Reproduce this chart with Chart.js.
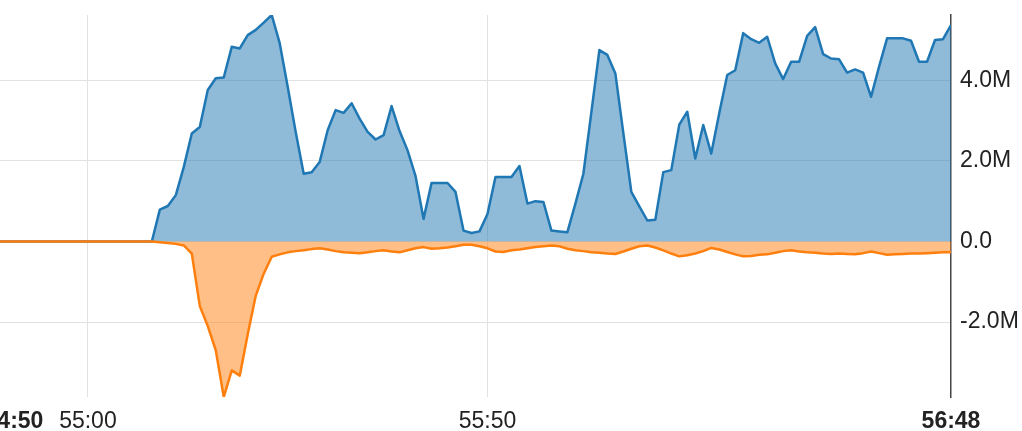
<!DOCTYPE html>
<html>
<head>
<meta charset="utf-8">
<script src="https://cdn.jsdelivr.net/npm/chart.js@4.4.1/dist/chart.umd.min.js"></script>
<style>
  html, body { margin: 0; padding: 0; background: #fff; overflow: hidden; }
  #wrap { position: absolute; left: 0; top: 0; width: 1022px; height: 431px; }
</style>
</head>
<body>
<div id="wrap"><canvas id="traffic"></canvas></div>
<script>
// One sample per second, in seconds past the hour (54:49 .. 56:48)
const firstSecond = 3289;

// Throughput in millions: inbound above zero, outbound below
const inbound = [
  0, 0, 0, 0, 0, 0, 0, 0, 0, 0,
  0, 0, 0, 0, 0, 0, 0, 0, 0, 0,
  0.79, 0.88, 1.15, 1.85, 2.68, 2.84, 3.76, 4.05, 4.07, 4.83,
  4.79, 5.12, 5.25, 5.43, 5.62, 4.92, 3.84, 2.72, 1.68, 1.72,
  1.97, 2.76, 3.26, 3.19, 3.43, 3.05, 2.72, 2.53, 2.64, 3.36,
  2.74, 2.26, 1.62, 0.56, 1.45, 1.45, 1.45, 1.23, 0.27, 0.21,
  0.25, 0.68, 1.60, 1.60, 1.60, 1.87, 0.94, 1.00, 0.98, 0.27,
  0.25, 0.23, 0.94, 1.68, 3.21, 4.75, 4.63, 4.17, 2.69, 1.23,
  0.87, 0.52, 0.54, 1.72, 1.77, 2.90, 3.22, 2.06, 2.89, 2.18,
  3.18, 4.13, 4.25, 5.17, 5.02, 4.93, 5.08, 4.42, 4.03, 4.46,
  4.46, 5.10, 5.32, 4.65, 4.54, 4.52, 4.19, 4.27, 4.19, 3.59,
  4.34, 5.04, 5.04, 5.04, 4.98, 4.46, 4.46, 5.00, 5.02, 5.37
];
const outbound = [
  0, 0, 0, 0, 0, 0, 0, 0, 0, 0,
  0, 0, 0, 0, 0, 0, 0, 0, 0, 0,
  -0.02, -0.04, -0.06, -0.10, -0.30, -1.60, -2.10, -2.70, -3.86, -3.20,
  -3.33, -2.30, -1.35, -0.80, -0.38, -0.32, -0.27, -0.24, -0.22, -0.19,
  -0.17, -0.20, -0.24, -0.27, -0.28, -0.29, -0.27, -0.24, -0.22, -0.25,
  -0.27, -0.22, -0.17, -0.14, -0.18, -0.17, -0.15, -0.12, -0.08, -0.08,
  -0.12, -0.17, -0.25, -0.26, -0.22, -0.20, -0.17, -0.14, -0.12, -0.10,
  -0.12, -0.18, -0.22, -0.24, -0.27, -0.28, -0.30, -0.31, -0.25, -0.18,
  -0.12, -0.10, -0.15, -0.22, -0.30, -0.37, -0.34, -0.30, -0.24, -0.16,
  -0.20, -0.26, -0.32, -0.37, -0.36, -0.33, -0.32, -0.28, -0.24, -0.22,
  -0.25, -0.27, -0.28, -0.30, -0.31, -0.30, -0.31, -0.32, -0.29, -0.25,
  -0.29, -0.33, -0.32, -0.31, -0.30, -0.30, -0.29, -0.28, -0.27, -0.27
];

// Axis ticks: range start, two regular marks, range end (seconds past the hour)
const xTicks = [3290.75, 3300, 3350, 3408];
const yTicks = [-2, 0, 2, 4];

const times = inbound.map((_, i) => firstSecond + i);
const lastSecond = times[times.length - 1];

const fontFamily = '"Liberation Sans", Arial, Helvetica, sans-serif';
const isEdge = i => i === 0 || i === xTicks.length - 1;

function mmss(sec) {
  const s = Math.floor(sec);
  const m = Math.floor(s / 60) % 60;
  const ss = s % 60;
  return String(m).padStart(2, '0') + ':' + String(ss).padStart(2, '0');
}

new Chart(document.getElementById('traffic'), {
  type: 'line',
  data: {
    datasets: [
      {
        label: 'out',
        data: times.map((t, i) => ({ x: t, y: outbound[i] })),
        borderColor: '#ff7f0e',
        backgroundColor: 'rgba(255,127,14,0.5)',
        borderWidth: 2.5,
        fill: 'origin'
      },
      {
        label: 'in',
        data: times.map((t, i) => ({ x: t, y: inbound[i] })),
        borderColor: '#1f77b4',
        backgroundColor: 'rgba(31,119,180,0.5)',
        borderWidth: 2.5,
        fill: 'origin'
      }
    ]
  },
  options: {
    responsive: true,
    maintainAspectRatio: false,
    animation: false,
    layout: { padding: { top: 15, left: 0, right: 0, bottom: 0 } },
    plugins: { legend: { display: false }, tooltip: { enabled: false } },
    elements: { point: { radius: 0 }, line: { tension: 0, borderJoinStyle: 'round' } },
    scales: {
      x: {
        type: 'linear',
        min: firstSecond,
        max: lastSecond,
        afterBuildTicks: s => { s.ticks = xTicks.map(v => ({ value: v })); },
        afterFit: s => { s.paddingLeft = 0; s.paddingRight = 0; s.height = 34; },
        border: { display: false },
        grid: {
          drawTicks: false,
          lineWidth: 1,
          color: ctx => isEdge(ctx.index) ? 'rgba(0,0,0,0)' : '#e2e2e2'
        },
        ticks: {
          autoSkip: false,
          maxRotation: 0,
          padding: 11,
          color: '#222',
          font: ctx => ({ family: fontFamily, size: 23, weight: isEdge(ctx.index) ? 'bold' : 'normal' }),
          callback: v => mmss(v)
        }
      },
      y: {
        position: 'right',
        min: Math.min(...outbound),
        max: Math.max(...inbound),
        afterBuildTicks: s => { s.ticks = yTicks.map(v => ({ value: v })); },
        afterFit: s => { s.width = 71; s.paddingTop = 0; s.paddingBottom = 0; },
        border: { display: true, color: '#444', width: 1.5 },
        grid: { drawTicks: false, color: '#e2e2e2', lineWidth: 1 },
        ticks: {
          padding: 9,
          color: '#222',
          font: { family: fontFamily, size: 23 },
          callback: v => v === 0 ? '0.0' : v.toFixed(1) + 'M'
        }
      }
    }
  }
});
</script>
</body>
</html>
